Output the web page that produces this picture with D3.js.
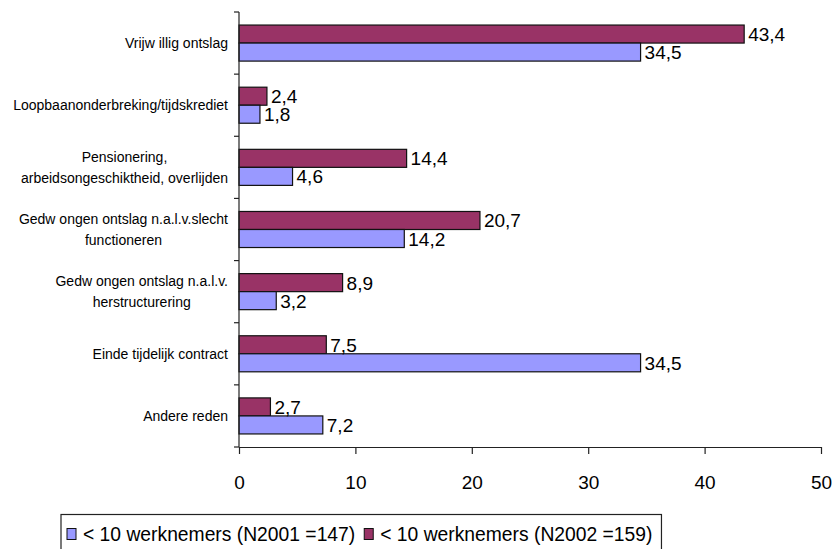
<!DOCTYPE html>
<html>
<head>
<meta charset="utf-8">
<script src="https://cdn.jsdelivr.net/npm/d3@7"></script>
<style>
  html, body { margin: 0; padding: 0; background: #fff; }
  svg { display: block; font-family: "Liberation Sans", Arial, sans-serif; }
</style>
</head>
<body>
<svg id="chart" width="834" height="549"></svg>
<script>
// Reasons for leaving, firms with fewer than 10 employees (%)
const categories = [
  ["Vrijw illig ontslag"],
  ["Loopbaanonderbreking/tijdskrediet"],
  ["Pensionering,", "arbeidsongeschiktheid, overlijden"],
  ["Gedw ongen ontslag n.a.l.v.slecht", "functioneren"],
  ["Gedw ongen ontslag n.a.l.v.", "herstructurering"],
  ["Einde tijdelijk contract"],
  ["Andere reden"]
];
const values2001 = [34.5, 1.8, 4.6, 14.2, 3.2, 34.5, 7.2];
const values2002 = [43.4, 2.4, 14.4, 20.7, 8.9, 7.5, 2.7];
const seriesNames = ["< 10 werknemers (N2001 =147)", "< 10 werknemers (N2002 =159)"];
const seriesColors = ["#9999FF", "#993366"];
const xTicks = [0, 10, 20, 30, 40, 50];

const svg = d3.select("#chart");
const plotLeft = 239, plotRight = 821, plotTop = 12, plotBottom = 447;

const keys = categories.map((c, i) => i);
const x = d3.scaleLinear().domain([0, 50]).range([plotLeft, plotRight]);
const y = d3.scaleBand().domain(keys).range([plotTop, plotBottom])
  .paddingInner(0.42).paddingOuter(0.21);
// within each category the 2002 bar sits above the 2001 bar
const ySub = d3.scaleBand().domain(["2002", "2001"]).range([0, y.bandwidth()]);

const rows = keys.map(i => [
  { key: "2002", v: values2002[i], color: seriesColors[1] },
  { key: "2001", v: values2001[i], color: seriesColors[0] }
]);

// bars
const groups = svg.append("g").selectAll("g").data(keys).join("g")
  .attr("transform", i => `translate(0,${y(i)})`);

groups.selectAll("rect").data(i => rows[i]).join("rect")
  .attr("x", x(0))
  .attr("y", d => ySub(d.key))
  .attr("width", d => x(d.v) - x(0))
  .attr("height", ySub.bandwidth())
  .attr("fill", d => d.color)
  .attr("stroke", "#111")
  .attr("stroke-width", 1.2);

// value labels
groups.selectAll("text").data(i => rows[i]).join("text")
  .attr("x", d => x(d.v) + 4)
  .attr("y", d => ySub(d.key) + ySub.bandwidth() / 2 + 7)
  .attr("font-size", 19)
  .attr("fill", "#000")
  .text(d => d.v.toFixed(1).replace(".", ","));

// x axis
const xAxis = svg.append("g")
  .attr("transform", `translate(0,${plotBottom})`)
  .call(d3.axisBottom(x).tickValues(xTicks).tickSize(7).tickSizeOuter(0).tickFormat(d3.format("d")));
xAxis.select(".domain").attr("stroke", "#222").attr("stroke-width", 1.2);
xAxis.selectAll(".tick line").attr("stroke", "#222").attr("stroke-width", 1.2);
xAxis.selectAll(".tick text")
  .attr("y", 41.5).attr("dy", 0)
  .attr("font-size", 19).attr("fill", "#000")
  .attr("font-family", "Liberation Sans, Arial, sans-serif");

// y axis: line with ticks on the category boundaries
const yAxis = svg.append("g");
yAxis.append("line")
  .attr("x1", x(0)).attr("x2", x(0))
  .attr("y1", plotTop).attr("y2", plotBottom)
  .attr("stroke", "#222").attr("stroke-width", 1.2);
const bounds = d3.range(categories.length + 1).map(i => plotTop + i * y.step());
yAxis.selectAll("line.tk").data(bounds).join("line")
  .attr("class", "tk")
  .attr("x1", x(0) - 5).attr("x2", x(0))
  .attr("y1", d => d).attr("y2", d => d)
  .attr("stroke", "#222").attr("stroke-width", 1.2);

// category labels: centred block, right edge next to the axis
const labelRight = 228, lineGap = 21;
const labels = yAxis.selectAll("text.cat").data(keys).join("text")
  .attr("class", "cat")
  .attr("font-size", 14)
  .attr("fill", "#000")
  .attr("text-anchor", "middle");
labels.each(function (i) {
  const lines = categories[i];
  const t = d3.select(this);
  const cy = y(i) + y.bandwidth() / 2;
  lines.forEach((ln, j) => {
    t.append("tspan")
      .attr("y", cy + (j - (lines.length - 1) / 2) * lineGap + 5)
      .text(ln);
  });
  let w = 0;
  t.selectAll("tspan").each(function () { w = Math.max(w, this.getComputedTextLength()); });
  t.selectAll("tspan").attr("x", labelRight - w / 2);
});

// legend
const legend = svg.append("g");
const boxLeft = 61, boxTop = 514.5, baseY = 541;
const box = legend.append("rect")
  .attr("x", boxLeft).attr("y", boxTop).attr("height", 45)
  .attr("fill", "#fff").attr("stroke", "#222").attr("stroke-width", 1.2);
let cx = boxLeft + 6;
seriesNames.forEach((name, k) => {
  legend.append("rect")
    .attr("x", cx).attr("y", 528.5).attr("width", 9).attr("height", 11)
    .attr("fill", seriesColors[k]).attr("stroke", "#111").attr("stroke-width", 1);
  const t = legend.append("text")
    .attr("x", cx + 16).attr("y", baseY)
    .attr("font-size", 19.3).attr("fill", "#000")
    .text(name);
  cx = cx + 16 + t.node().getComputedTextLength() + 9;
});
box.attr("width", cx - boxLeft);
</script>
</body>
</html>
